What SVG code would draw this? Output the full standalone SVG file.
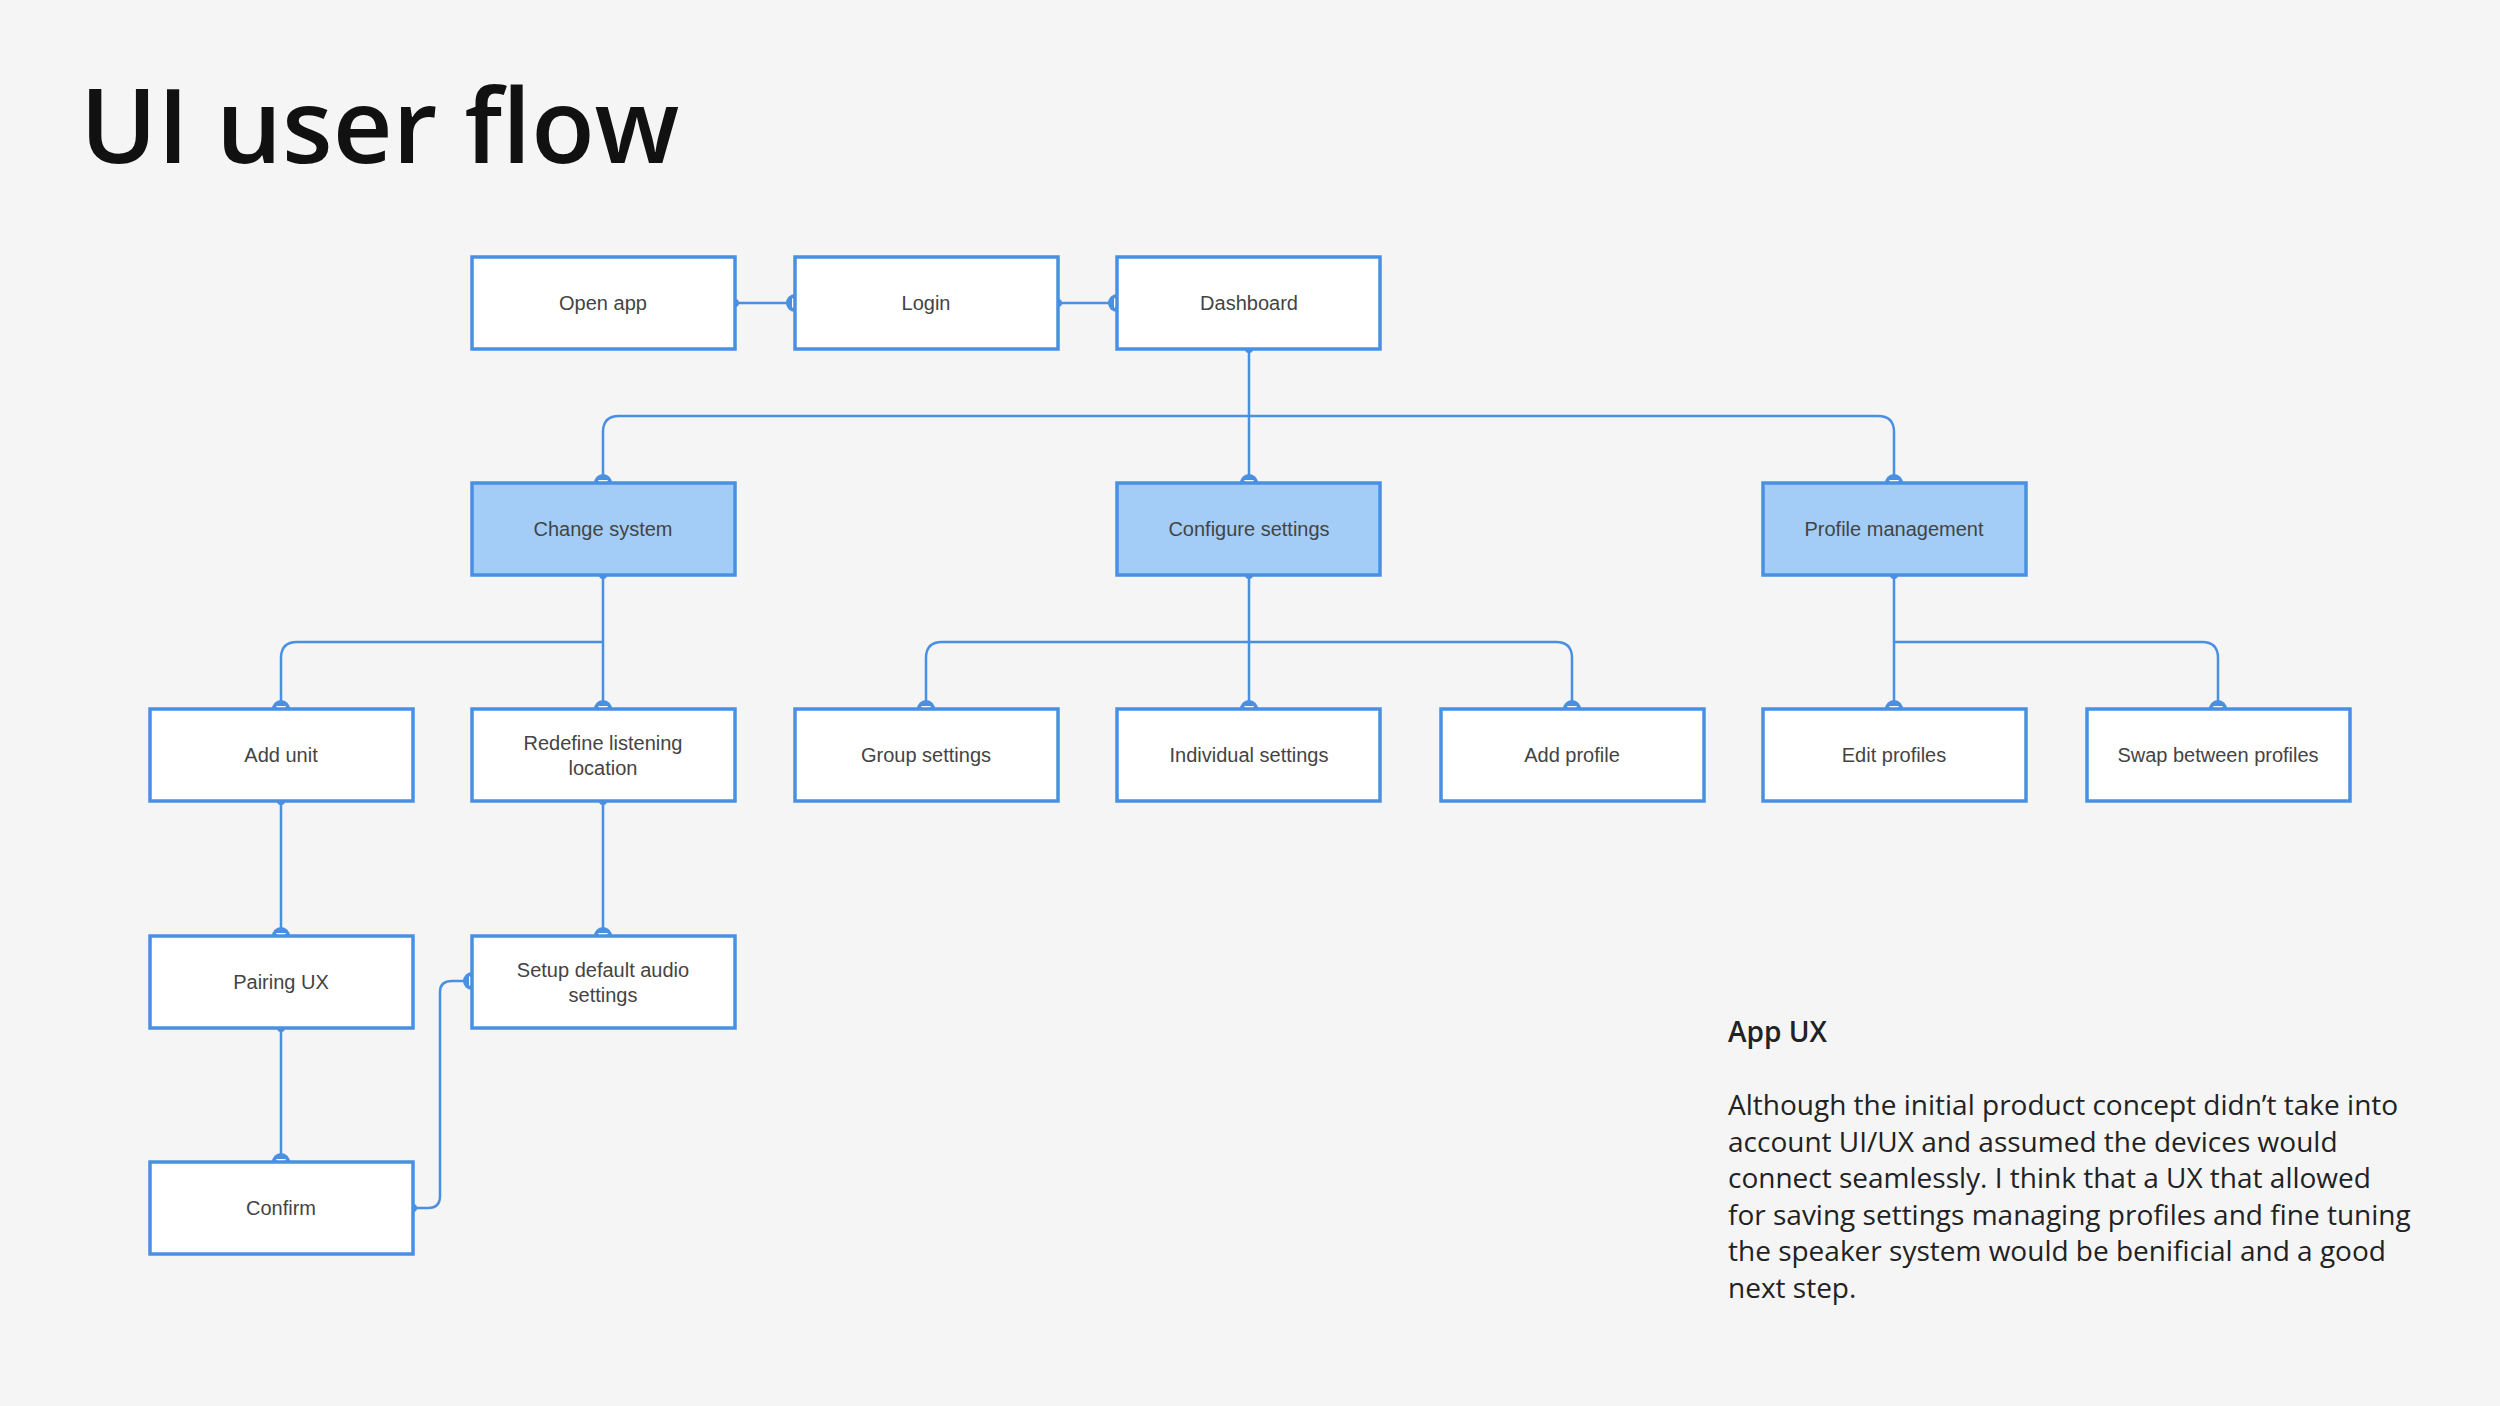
<svg xmlns="http://www.w3.org/2000/svg" width="2500" height="1406" viewBox="0 0 2500 1406">
<style>
.b{fill:#fff;stroke:#4a90e2;stroke-width:3.5}
.h{fill:#a3cdf6;stroke:#4a90e2;stroke-width:3.5}
.t{font-family:"Liberation Sans",Arial,sans-serif;font-size:20px;fill:#444;text-anchor:middle}
.c{fill:none;stroke:#4a90e2;stroke-width:2.5}
.d{fill:#4a90e2}
.p{font-family:"Open Sans",sans-serif;font-size:28px;fill:#222}
</style>
<defs>
<g id="ad"><circle r="9" fill="#4a90e2"/><path d="M-5,-3 L5,-3 L0,5 Z" fill="#fff"/></g>
<g id="ar"><circle r="9" fill="#4a90e2"/><path d="M-3,-5 L-3,5 L5,0 Z" fill="#fff"/></g>
</defs>
<rect width="2500" height="1406" fill="#f5f5f5"/>
<text x="80" y="163" font-family="Open Sans,sans-serif" font-weight="600" font-size="104" fill="#111">UI user flow</text>
<g id="connectors">
<path class="c" d="M735,303 H795 M1058,303 H1117"/>
<path class="c" d="M1249,349 V416 M603,483 V432 Q603,416 619,416 H1878 Q1894,416 1894,432 V483 M1249,416 V483"/>
<path class="c" d="M603,575 V642 M281,709 V658 Q281,642 297,642 H603 V709"/>
<path class="c" d="M1249,575 V642 M926,709 V658 Q926,642 942,642 H1556 Q1572,642 1572,658 V709 M1249,642 V709"/>
<path class="c" d="M1894,575 V642 H2202 Q2218,642 2218,658 V709 M1894,642 V709"/>
<path class="c" d="M281,801 V936 M603,801 V936 M281,1028 V1162"/>
<path class="c" d="M413,1208 H428 Q440,1208 440,1196 V992 Q440,981 452,981 H472"/>
<g class="d"><circle cx="735" cy="303" r="4"/><circle cx="1058" cy="303" r="4"/><circle cx="1249" cy="349" r="4"/><circle cx="603" cy="575" r="4"/><circle cx="1249" cy="575" r="4"/><circle cx="1894" cy="575" r="4"/><circle cx="281" cy="801" r="4"/><circle cx="603" cy="801" r="4"/><circle cx="281" cy="1028" r="4"/><circle cx="413" cy="1208" r="4"/></g>
<use href="#ar" x="795" y="303"/><use href="#ar" x="1117" y="303"/>
<use href="#ad" x="603" y="483"/><use href="#ad" x="1249" y="483"/><use href="#ad" x="1894" y="483"/>
<use href="#ad" x="281" y="709"/><use href="#ad" x="603" y="709"/><use href="#ad" x="926" y="709"/><use href="#ad" x="1249" y="709"/><use href="#ad" x="1572" y="709"/><use href="#ad" x="1894" y="709"/><use href="#ad" x="2218" y="709"/>
<use href="#ad" x="281" y="936"/><use href="#ad" x="603" y="936"/><use href="#ad" x="281" y="1162"/>
<use href="#ar" x="472" y="981"/>
</g>
<g id="open"><rect class="b" x="472" y="257" width="263" height="92"/><text class="t" x="603" y="310">Open app</text></g>
<g id="login"><rect class="b" x="795" y="257" width="263" height="92"/><text class="t" x="926" y="310">Login</text></g>
<g id="dash"><rect class="b" x="1117" y="257" width="263" height="92"/><text class="t" x="1249" y="310">Dashboard</text></g>
<g id="change"><rect class="h" x="472" y="483" width="263" height="92"/><text class="t" x="603" y="536">Change system</text></g>
<g id="config"><rect class="h" x="1117" y="483" width="263" height="92"/><text class="t" x="1249" y="536">Configure settings</text></g>
<g id="profile"><rect class="h" x="1763" y="483" width="263" height="92"/><text class="t" x="1894" y="536">Profile management</text></g>
<g id="addunit"><rect class="b" x="150" y="709" width="263" height="92"/><text class="t" x="281" y="762">Add unit</text></g>
<g id="redefine"><rect class="b" x="472" y="709" width="263" height="92"/><text class="t" x="603" y="750">Redefine listening</text><text class="t" x="603" y="775">location</text></g>
<g id="group"><rect class="b" x="795" y="709" width="263" height="92"/><text class="t" x="926" y="762">Group settings</text></g>
<g id="indiv"><rect class="b" x="1117" y="709" width="263" height="92"/><text class="t" x="1249" y="762">Individual settings</text></g>
<g id="addprof"><rect class="b" x="1441" y="709" width="263" height="92"/><text class="t" x="1572" y="762">Add profile</text></g>
<g id="edit"><rect class="b" x="1763" y="709" width="263" height="92"/><text class="t" x="1894" y="762">Edit profiles</text></g>
<g id="swap"><rect class="b" x="2087" y="709" width="263" height="92"/><text class="t" x="2218" y="762">Swap between profiles</text></g>
<g id="pairing"><rect class="b" x="150" y="936" width="263" height="92"/><text class="t" x="281" y="989">Pairing UX</text></g>
<g id="setup"><rect class="b" x="472" y="936" width="263" height="92"/><text class="t" x="603" y="977">Setup default audio</text><text class="t" x="603" y="1002">settings</text></g>
<g id="confirm"><rect class="b" x="150" y="1162" width="263" height="92"/><text class="t" x="281" y="1215">Confirm</text></g>
<text class="p" x="1728" y="1042" font-weight="600" font-size="30">App UX</text>
<text class="p" x="1728" y="1115">Although the initial product concept didn’t take into</text>
<text class="p" x="1728" y="1152">account UI/UX and assumed the devices would</text>
<text class="p" x="1728" y="1188">connect seamlessly. I think that a UX that allowed</text>
<text class="p" x="1728" y="1225">for saving settings managing profiles and fine tuning</text>
<text class="p" x="1728" y="1261">the speaker system would be benificial and a good</text>
<text class="p" x="1728" y="1298">next step.</text>
</svg>
